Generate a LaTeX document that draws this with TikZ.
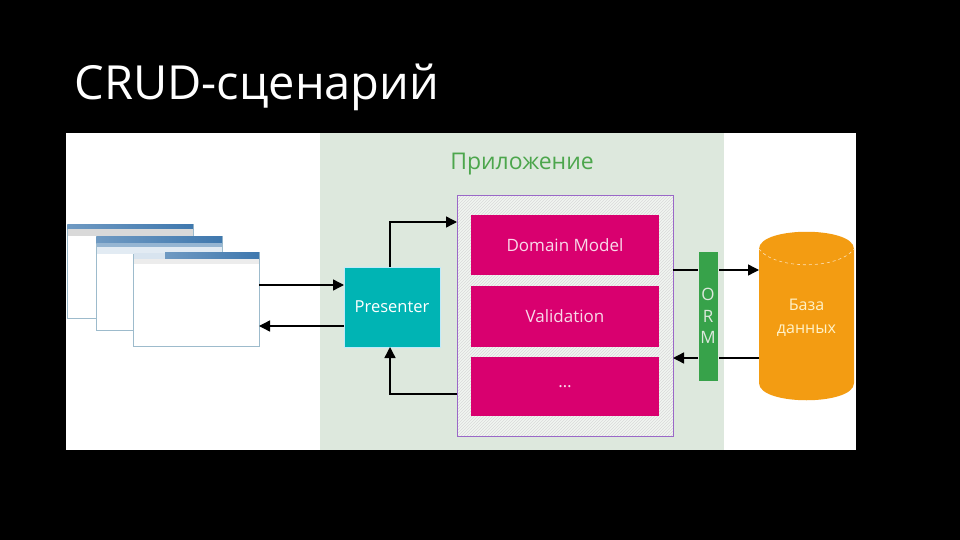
\documentclass[tikz,border=0pt]{standalone}
\usepackage{fontspec}
\setmainfont{Open Sans}
\usetikzlibrary{positioning,arrows.meta,patterns}
\definecolor{appgreen}{HTML}{DDE8DD}
\definecolor{apptext}{HTML}{4CA64C}
\definecolor{corepink}{HTML}{D9006F}
\definecolor{coreline}{HTML}{9A68C8}
\definecolor{presteal}{HTML}{00B4B4}
\definecolor{ormgreen}{HTML}{37A24A}
\definecolor{dborange}{HTML}{F39C12}
\definecolor{dbtext}{HTML}{FFF2C8}
\definecolor{winblue}{HTML}{3F78AE}
\definecolor{winframe}{HTML}{9DBBCC}
\tikzset{
	panel/.style={inner sep=0pt,outer sep=0pt,anchor=north west},
	pinkbox/.style={panel,fill=corepink,text=white!85!corepink,minimum width=188pt,minimum height=60pt,font=\fontsize{17}{20}\selectfont},
	window/.style={panel,fill=white,draw=winframe,line width=1pt,minimum width=126pt,minimum height=94pt},
	winbar/.style={left color=winblue!75,right color=winblue},
	conn/.style={black,line width=1.4pt,-{Triangle[length=11pt,width=11pt]}},
}
\begin{document}
\begin{tikzpicture}[x=1pt,y=-1pt]
		
		\fill[black] (0,0) rectangle (960,540);
		\useasboundingbox (0,0) rectangle (960,540);
		
		\node[anchor=west,white,font=\fontsize{47}{54}\selectfont] (title) at (71,87)
		{CRUD-сценарий};
		
		\fill[white] (66,133) rectangle (856,450);
		\node[panel,fill=appgreen,minimum width=404pt,minimum height=317pt] (app) at (320,133) {};
		
		\node[apptext,font=\fontsize{23}{27}\selectfont] (apptitle) at (522,164)
		{Приложение};
		
		% browser windows
		\foreach \wname/\wx/\wy in {win1/67/224,win2/96/236,win3/133/252}
		{
			\node[window] (\wname) at (\wx,\wy) {};
		}
		
		\fill[winbar] (67.5,224.5) rectangle (193,229);
		\fill[gray!30] (67.5,229) rectangle (193,236);
		\fill[winbar] (96.5,236.5) rectangle (222,243);
		\fill[winblue!55] (96.5,243) rectangle (222,247);
		\fill[winblue!15] (96.5,247) rectangle (222,254);
		\fill[winbar] (165,252.5) rectangle (259,259);
		\fill[winblue!20] (133.5,252.5) rectangle (165,259);
		\fill[gray!15] (133.5,259) rectangle (259,264);
		
		% core
		\node[panel,draw=coreline,line width=0.8pt,preaction={fill=white!60!appgreen},pattern=north east lines,pattern color=gray!30,minimum width=216pt,minimum height=241pt] (core) at (457,195) {};
		\draw[coreline,line width=0.8pt] (core.north west) rectangle (core.south east);
		
		\node[pinkbox] (domain) at (471,215) {Domain Model};
		\node[pinkbox,minimum height=61pt] (valid) at (471,286) {Validation};
		\node[pinkbox,minimum height=59pt] (other) at (471,357) {\raisebox{-2pt}{\dots}};
		
		\node[panel,fill=presteal,draw=cyan!25,text=white,minimum width=96pt,minimum height=80pt,font=\fontsize{16.5}{20}\selectfont] (pres) at (344,267)
		{Presenter};
		
		% database
		\fill[dborange] (759,249) .. controls (759,226) and (854,226) .. (854,249)
		-- (854,383) .. controls (854,406) and (759,406) .. (759,383) -- cycle;
		
		\node[panel,text=dbtext,align=center,minimum width=95pt,minimum height=172pt,font=\fontsize{16}{23}\selectfont] (db) at (759,232)
		{База\\данных};
		
		\draw[white!70!dborange,dashed,line width=0.6pt] (759,249) .. controls (775,270) and (838,270) .. (854,249);
		
		% connectors
		\draw[conn] (win3.east |- 0,285) -- (pres.west |- 0,285);
		\draw[conn] (pres.west |- 0,326) -- (win3.east |- 0,326);
		
		\draw[conn] ([xshift=-2pt]pres.north) |- (core.west |- 0,222);
		\draw[conn] (core.west |- 0,394) -| ([xshift=-2pt]pres.south);
		
		\draw[conn] (core.east |- 0,270) -- (db.west |- 0,270);
		\draw[conn] (db.west |- 0,358) -- (core.east |- 0,358);
		
		\node[panel,fill=ormgreen,draw=appgreen,line width=1pt,text=appgreen,minimum width=20pt,minimum height=130pt,align=center,font=\fontsize{17}{21.5}\selectfont] (orm) at (698,251)
		{O\\R\\M};
		
	\end{tikzpicture}
\end{document}
